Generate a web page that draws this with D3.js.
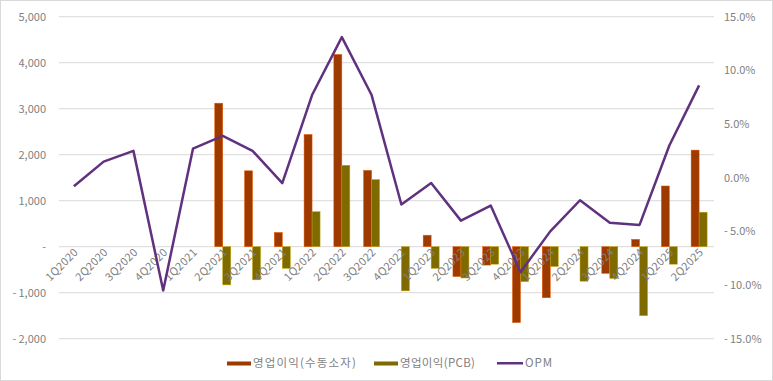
<!DOCTYPE html>
<html>
<head>
<meta charset="utf-8">
<script src="https://cdn.jsdelivr.net/npm/d3@7"></script>
<style>
  body { margin: 0; background: #fff; }
  text { font-family: "Noto Sans CJK KR", "Noto Sans", sans-serif; fill: #7f7f7f; }
</style>
</head>
<body>
<div id="chart"></div>
<script>
const width = 773;
const height = 381;

const quarters = ["1Q2020","2Q2020","3Q2020","4Q2020","1Q2021","2Q2021","3Q2021","4Q2021",
  "1Q2022","2Q2022","3Q2022","4Q2022","1Q2023","2Q2023","3Q2023","4Q2023",
  "1Q2024","2Q2024","3Q2024","4Q2024","1Q2025","2Q2025"];
// 영업이익(수동소자)
const passiveProfit = [0,0,0,0,0,3120,1650,310,2440,4180,1660,0,250,-650,-400,-1650,-1110,0,-580,160,1320,2100];
// 영업이익(PCB)
const pcbProfit = [0,0,0,0,0,-830,-720,-470,760,1770,1460,-960,-470,-680,-380,-760,-430,-750,-690,-1500,-380,750];
// OPM (%)
const opm = [-0.8,1.5,2.5,-10.5,2.7,3.9,2.5,-0.5,7.7,13.1,7.7,-2.5,-0.5,-4.0,-2.6,-8.8,-5.0,-2.1,-4.2,-4.4,3.0,8.6];

const leftTicks = [-2000,-1000,0,1000,2000,3000,4000,5000];
const rightTicks = [-15,-10,-5,0,5,10,15];
const seriesNames = ["영업이익(수동소자)", "영업이익(PCB)", "OPM"];
const colors = ["#9c3a00", "#7f6a00", "#60317e"];

const plotLeft = 59, plotRight = 714, plotTop = 16.7, plotBottom = 338.7;

const svg = d3.select("#chart").append("svg")
  .attr("width", width).attr("height", height);

svg.append("rect")
  .attr("x", 0.5).attr("y", 0.5)
  .attr("width", width - 1).attr("height", height - 1)
  .attr("fill", "#fff").attr("stroke", "#d9d9d9");

const x = d3.scaleBand().domain(quarters).range([plotLeft, plotRight]);
const yLeft = d3.scaleLinear().domain([-2000, 5000]).range([plotBottom, plotTop]);
const yRight = d3.scaleLinear().domain([-15, 15]).range([plotBottom, plotTop]);

// gridlines
svg.append("g")
  .selectAll("line")
  .data(leftTicks)
  .enter()
  .append("line")
  .attr("x1", plotLeft).attr("x2", plotRight)
  .attr("y1", d => yLeft(d)).attr("y2", d => yLeft(d))
  .attr("stroke", "#d9d9d9").attr("stroke-width", 1);

// left axis labels
const fmtLeft = function (d) {
  if (d === 0) return "-";
  return d < 0 ? "-\u2009" + d3.format(",")(-d) : d3.format(",")(d);
};
svg.append("g")
  .selectAll("text")
  .data(leftTicks)
  .enter()
  .append("text")
  .attr("x", 46)
  .attr("y", d => yLeft(d))
  .attr("dy", "0.35em")
  .attr("text-anchor", "end")
  .style("font-size", "11px")
  .text(fmtLeft);

// right axis labels
const fmtRight = function (d) {
  return d < 0 ? "-\u2009" + d3.format(".1f")(-d) + "%" : d3.format(".1f")(d) + "%";
};
svg.append("g")
  .selectAll("text")
  .data(rightTicks)
  .enter()
  .append("text")
  .attr("x", 724)
  .attr("y", d => yRight(d))
  .attr("dy", "0.35em")
  .attr("text-anchor", "start")
  .style("font-size", "11px")
  .text(fmtRight);

// bars
const barW = 8;
function drawBars(values, color, offset) {
  svg.append("g")
    .selectAll("rect")
    .data(values.map((v, i) => ({ q: quarters[i], v: v })).filter(d => d.v !== 0))
    .enter()
    .append("rect")
    .attr("x", d => x(d.q) + x.bandwidth() / 2 + offset)
    .attr("y", d => yLeft(Math.max(0, d.v)))
    .attr("width", barW)
    .attr("height", d => Math.abs(yLeft(d.v) - yLeft(0)))
    .attr("fill", color)
    .attr("stroke", d3.color(color).brighter(1.2))
    .attr("stroke-width", 0.5);
}
drawBars(passiveProfit, colors[0], -barW);
drawBars(pcbProfit, colors[1], 0);

// x labels
svg.append("g")
  .selectAll("text")
  .data(quarters)
  .enter()
  .append("text")
  .attr("transform", d => "translate(" + (x(d) + x.bandwidth() / 2 + 5) + "," + 253 + ") rotate(-45)")
  .attr("text-anchor", "end")
  .style("font-size", "11px")
  .style("letter-spacing", "0.3px")
  .text(d => d);

// OPM line
const line = d3.line()
  .x((d, i) => x(quarters[i]) + x.bandwidth() / 2)
  .y(d => yRight(d));
svg.append("path")
  .datum(opm)
  .attr("d", line)
  .attr("fill", "none")
  .attr("stroke", colors[2])
  .attr("stroke-width", 2.5)
  .attr("stroke-linejoin", "round");

// legend
const legendItems = [
  { x: 227, w: 24, tw: 103, name: seriesNames[0], color: colors[0] },
  { x: 374, w: 24, tw: 75, name: seriesNames[1], color: colors[1] },
  { x: 497, w: 26, tw: 27, name: seriesNames[2], color: colors[2] }
];
const legend = svg.append("g").attr("class", "legend");
legend.selectAll("rect")
  .data(legendItems)
  .enter()
  .append("rect")
  .attr("x", d => d.x)
  .attr("y", d => d.name === "OPM" ? 362 : 361.5)
  .attr("width", d => d.w)
  .attr("height", d => d.name === "OPM" ? 2.5 : 4)
  .attr("fill", d => d.color);
legend.selectAll("text")
  .data(legendItems)
  .enter()
  .append("text")
  .attr("x", d => d.x + d.w + 2)
  .attr("y", 363)
  .attr("dy", "0.35em")
  .attr("textLength", d => d.tw)
  .attr("lengthAdjust", "spacing")
  .style("font-size", "11.5px")
  .text(d => d.name);
</script>
</body>
</html>
